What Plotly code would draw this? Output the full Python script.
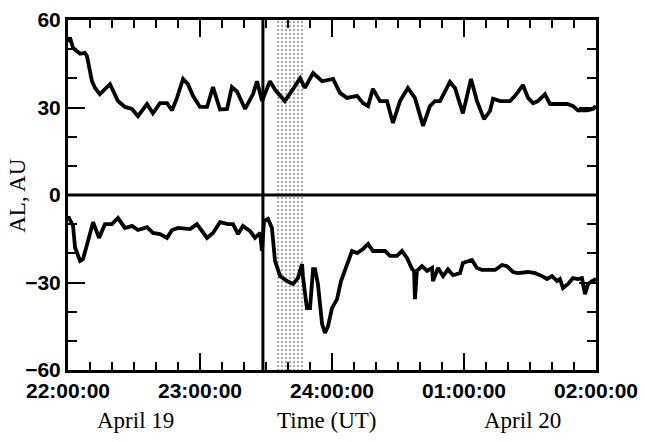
import plotly.graph_objects as go

# Time in minutes after 22:00 UT (April 19)
au_min = [0, 0.9, 2.3, 5.5, 7.7, 8.6, 10.9, 12.3, 14.5, 16.8, 19.1, 22.7, 25.9, 29.1, 31.8, 35.9, 38.6, 41.8, 45,
          47.3, 49.5, 52.3, 54.5, 56.8, 60, 63.2, 65.9, 69.1, 72.3, 74.5, 76.8, 80.5, 84.1, 85.9, 88.2, 91.8, 94.5,
          98.6, 105.5, 107.7, 111.4, 115.5, 120.5, 123.6, 126.8, 131.4, 134.1, 136.4, 138.6, 141.8, 145, 147.7,
          150.9, 154.5, 157.7, 161.4, 164.5, 166.8, 169.1, 173.6, 175.9, 179.5, 183.2, 185.9, 189.1, 191.8, 193.2,
          196.4, 200.9, 203.2, 206.8, 209.1, 211.4, 213.6, 216.8, 219.1, 222.3, 224.5, 226.8, 229.5, 231.8, 235.9,
          238.6, 240]
au_val = [52.5, 54, 50.4, 48.4, 48.7, 47.7, 39, 36.7, 34.6, 36.4, 38, 32.2, 30.2, 29.5, 27, 31.2, 28, 31.5, 31.5,
          29, 33.2, 39.8, 38, 34, 30.2, 30.2, 37, 29.3, 29.5, 37, 35.5, 29.5, 34.6, 39, 32.2, 39, 35.7,
          32.2, 40, 36.7, 41.8, 39, 39.8, 35, 33.3, 34, 31.5, 30.5, 36.4, 32.2, 32.2, 24.7,
          32.2, 36.7, 33.3, 23.7, 30.5, 32.2, 32.2, 38.8, 36.7, 28, 39.8, 32.2, 26, 28.8, 33,
          32.2, 32.2, 34, 37.7, 33.3, 31.5, 32.2, 34.6, 31.2, 31.2, 31.5, 31.2, 30.5, 29, 29,
          29.5, 30.5]

al_min = [0, 0.5, 2.3, 3.2, 5.5, 6.8, 9.1, 11.4, 14.1, 16.8, 20, 22.7, 25.9, 29.1, 31.8, 35.9, 38.6, 41.8, 45,
          47.3, 50, 55.5, 58.6, 63.2, 65.9, 69.1, 72.7, 75, 77.3, 79.5, 82.7, 85, 87.3, 88.2, 89.1, 90.9, 92.7,
          94.1, 96.4, 99.5, 102.3, 104.5, 106.4, 106.8, 108.6, 110, 111.4, 112.3, 113.6, 115.5, 116.8, 118.2,
          120, 122.3, 124.1, 126.8, 129.1, 131.4, 134.1, 136.4, 138.6, 141.8, 144.1, 146.4, 149.5, 151.8, 154.1,
          156.4, 157.3, 157.7, 158.6, 160.9, 163.2, 165.5, 165.9, 168.2, 170.5, 172.7, 175, 178.2, 179.5, 183.6,
          185.9, 188.2, 194.1, 197.3, 199.5, 202.3, 204.5, 209.1, 212.3, 215.5, 217.7, 220, 222.3, 223.6, 225,
          227.3, 229.5, 231.8, 233.6, 235, 236.4, 238.2, 240]
al_val = [-8, -7.9, -10.6, -18, -22.6, -22, -15.8, -9.3, -14.7, -10, -10, -7.9, -11.3, -10.6, -12, -11, -13, -13.4, -14.7,
          -12, -11.3, -11.7, -10, -14.7, -13, -9.3, -10, -10, -13.4, -10.6, -12.3, -14.7, -13, -19.2, -8.9, -8.2, -11.3,
          -22.6, -27.8, -29.5, -30.5, -28.5, -23.7, -28, -38.8, -38.8, -25.4, -25.4, -30.5, -44.3, -47.3, -45,
          -38.8, -35.7, -29.5, -23.7, -19.2, -19.9, -18.5, -16.8, -19.2, -19.2, -19.2, -20.9, -20.9, -19.2, -21.6,
          -25.4, -26, -35.7, -26, -24.4, -26, -25, -29.5, -25, -27.8, -25.5, -27.5, -26.8, -23.3, -22.3,
          -25, -25.7, -25.7, -24, -24.4, -26.4, -26.8, -26.4, -26.8, -27.8, -28.8, -27.8, -29.5, -28.8, -31.9,
          -30.5, -28.5, -28.8, -28.5, -34, -30.5, -29.5, -28.8]

x_tickvals = [22, 23, 24, 25, 26]
x_ticktext = ["22:00:00", "23:00:00", "24:00:00", "01:00:00", "02:00:00"]
y_tickvals = [-60, -30, 0, 30, 60]
onset_min = 88.6
shade_min = [94.5, 107.3]


def to_h(m):
    return [22 + v / 60 for v in m]


fig = go.Figure()

s0, s1 = to_h(shade_min)
fig.add_trace(go.Scatter(
    x=[s0, s1, s1, s0, s0], y=[-60, -60, 60, 60, -60], mode="lines", fill="toself",
    line=dict(width=0), fillcolor="rgba(255,255,255,0)",
    fillpattern=dict(shape=".", fgcolor="#555555", bgcolor="rgba(255,255,255,0)", size=4, solidity=0.3),
    hoverinfo="skip", showlegend=False))

fig.add_trace(go.Scatter(x=to_h(au_min), y=au_val, mode="lines",
                         line=dict(color="black", width=3.8), showlegend=False))
fig.add_trace(go.Scatter(x=to_h(al_min), y=al_val, mode="lines",
                         line=dict(color="black", width=3.8), showlegend=False))

xo = to_h([onset_min])[0]
fig.add_shape(type="line", x0=xo, x1=xo, y0=-60, y1=60, xref="x", yref="y",
              line=dict(color="black", width=3))
fig.add_shape(type="line", x0=22, x1=26, y0=0, y1=0, xref="x", yref="y",
              line=dict(color="black", width=3))

tickfont = dict(family="Liberation Sans, Arial", size=21, color="black", weight="bold")
fig.update_xaxes(range=[22, 26], tickvals=x_tickvals, ticktext=x_ticktext, ticks="inside", ticklen=17,
                 tickwidth=2, tickcolor="black", showline=True, linecolor="black", linewidth=3, mirror="ticks",
                 showgrid=False, zeroline=False, tickfont=tickfont, automargin=False,
                 minor=dict(tick0=22, dtick=1 / 6, ticks="inside", ticklen=8, tickwidth=2, tickcolor="black",
                            showgrid=False))
fig.update_yaxes(range=[-60, 60], tickvals=y_tickvals, ticks="inside", ticklen=17, tickwidth=2,
                 tickcolor="black", showline=True, linecolor="black", linewidth=3, mirror="ticks",
                 showgrid=False, zeroline=False, tickfont=tickfont, automargin=False,
                 minor=dict(tick0=0, dtick=10, ticks="inside", ticklen=9, tickwidth=2, tickcolor="black",
                            showgrid=False))

serif = dict(family="Liberation Serif, Times New Roman", size=23, color="black")
fig.add_annotation(text="AL, AU", xref="paper", yref="paper", x=-0.097, y=0.5, textangle=-90,
                   showarrow=False, font=serif, xanchor="center", yanchor="middle")
fig.add_annotation(text="April 19", xref="paper", yref="paper", x=0.127, y=-0.143, showarrow=False,
                   font=serif, xanchor="center", yanchor="middle")
fig.add_annotation(text="Time (UT)", xref="paper", yref="paper", x=0.49, y=-0.143, showarrow=False,
                   font=serif, xanchor="center", yanchor="middle")
fig.add_annotation(text="April 20", xref="paper", yref="paper", x=0.86, y=-0.143, showarrow=False,
                   font=serif, xanchor="center", yanchor="middle")

fig.update_layout(width=645, height=442, margin=dict(l=68, r=49, t=20, b=72),
                  plot_bgcolor="white", paper_bgcolor="white")
fig.write_html("out.html")
